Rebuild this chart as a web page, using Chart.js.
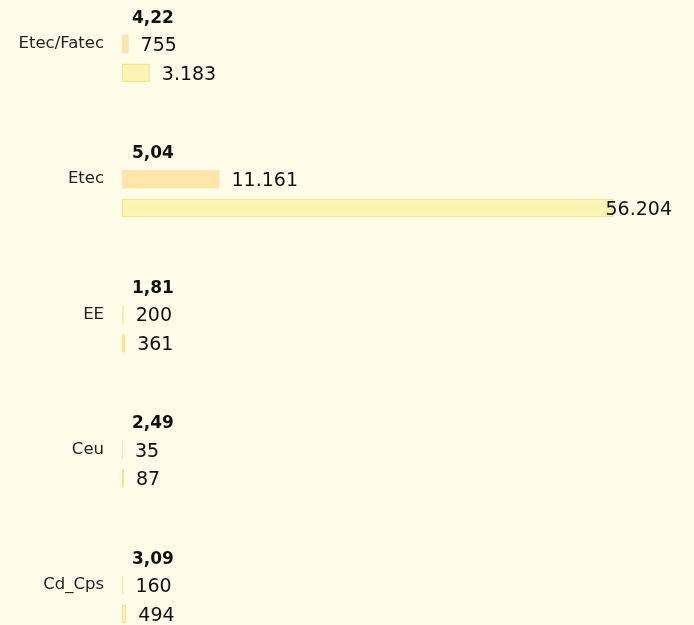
<!DOCTYPE html>
<html>
<head>
<meta charset="utf-8">
<script src="https://cdn.jsdelivr.net/npm/chart.js@4.4.1/dist/chart.umd.min.js"></script>
<style>
  html, body { margin: 0; padding: 0; background: #fffde9; overflow: hidden; }
  #wrap { position: relative; width: 694px; height: 625px; }
</style>
</head>
<body>
<div id="wrap"><canvas id="chart"></canvas></div>
<script>
const categories = ["Etec/Fatec", "Etec", "EE", "Ceu", "Cd_Cps"];
const seriesA = [755, 11161, 200, 35, 160];
const seriesB = [3183, 56204, 361, 87, 494];
const ratios = [4.22, 5.04, 1.81, 2.49, 3.09];

function fmtInt(n) {
  return String(n).replace(/\B(?=(\d{3})+(?!\d))/g, ".");
}
function fmtRatio(r) {
  return r.toFixed(2).replace(".", ",");
}

// draws the ratio above each group and the value next to each bar
const labelPlugin = {
  id: "barLabels",
  beforeDraw(chart) {
    const ctx = chart.ctx;
    ctx.save();
    ctx.fillStyle = "#fffde9";
    ctx.fillRect(0, 0, chart.width, chart.height);
    ctx.restore();
  },
  afterDatasetsDraw(chart) {
    const ctx = chart.ctx;
    const area = chart.chartArea;
    const metaR = chart.getDatasetMeta(0);
    const metaA = chart.getDatasetMeta(1);
    const metaB = chart.getDatasetMeta(2);
    ctx.save();
    ctx.fillStyle = "#111";
    ctx.textBaseline = "middle";
    ctx.textAlign = "left";

    ctx.font = "bold 17px 'DejaVu Sans'";
    metaR.data.forEach((bar, i) => {
      ctx.fillText(fmtRatio(ratios[i]), area.left + 10, bar.y + 3);
    });

    ctx.font = "19px 'DejaVu Sans'";
    [[metaA, seriesA], [metaB, seriesB]].forEach(([meta, vals]) => {
      meta.data.forEach((bar, i) => {
        const txt = fmtInt(vals[i]);
        const w = ctx.measureText(txt).width;
        let x = Math.max(bar.x + 12, area.left + 13);
        if (x + w > area.right - 18) x = area.right - 18 - w;
        ctx.fillText(txt, x, bar.y + 2);
      });
    });
    ctx.restore();
  }
};

const toPoints = vals => vals.map((v, i) => ({ x: v, y: i }));

new Chart(document.getElementById("chart"), {
  type: "bar",
  data: {
    datasets: [
      {
        label: "ratio",
        data: toPoints(categories.map(() => 0)),
        backgroundColor: "rgba(0,0,0,0)",
        borderWidth: 0
      },
      {
        label: "A",
        data: toPoints(seriesA),
        backgroundColor: "#ffe5aa",
        borderColor: "#ffe5aa",
        borderWidth: 0,
        minBarLength: 1
      },
      {
        label: "B",
        data: toPoints(seriesB),
        backgroundColor: "#fcf4b4",
        borderColor: "#fce18a",
        borderWidth: 1.5,
        borderSkipped: false,
        minBarLength: 2
      }
    ]
  },
  options: {
    indexAxis: "y",
    responsive: true,
    maintainAspectRatio: false,
    animation: false,
    categoryPercentage: 0.639,
    barPercentage: 0.645,
    layout: { padding: { top: 0, right: 4, bottom: 0, left: 0 } },
    plugins: {
      legend: { display: false },
      tooltip: { enabled: false }
    },
    scales: {
      x: {
        type: "linear",
        display: false,
        min: 0,
        max: 65000
      },
      y: {
        type: "linear",
        reverse: true,
        offset: false,
        min: -0.325,
        max: 4.296,
        grid: { display: false, drawTicks: false, offset: false },
        border: { display: false },
        ticks: {
          stepSize: 1,
          includeBounds: false,
          autoSkip: false,
          color: "#222",
          padding: 18,
          font: { family: "DejaVu Sans", size: 16.5 },
          callback: v => (Number.isInteger(v) ? categories[v] : "")
        },
        afterFit(scale) {
          scale.width = 122;
          scale.paddingTop = 0;
          scale.paddingBottom = 0;
        }
      }
    }
  },
  plugins: [labelPlugin]
});
</script>
</body>
</html>
